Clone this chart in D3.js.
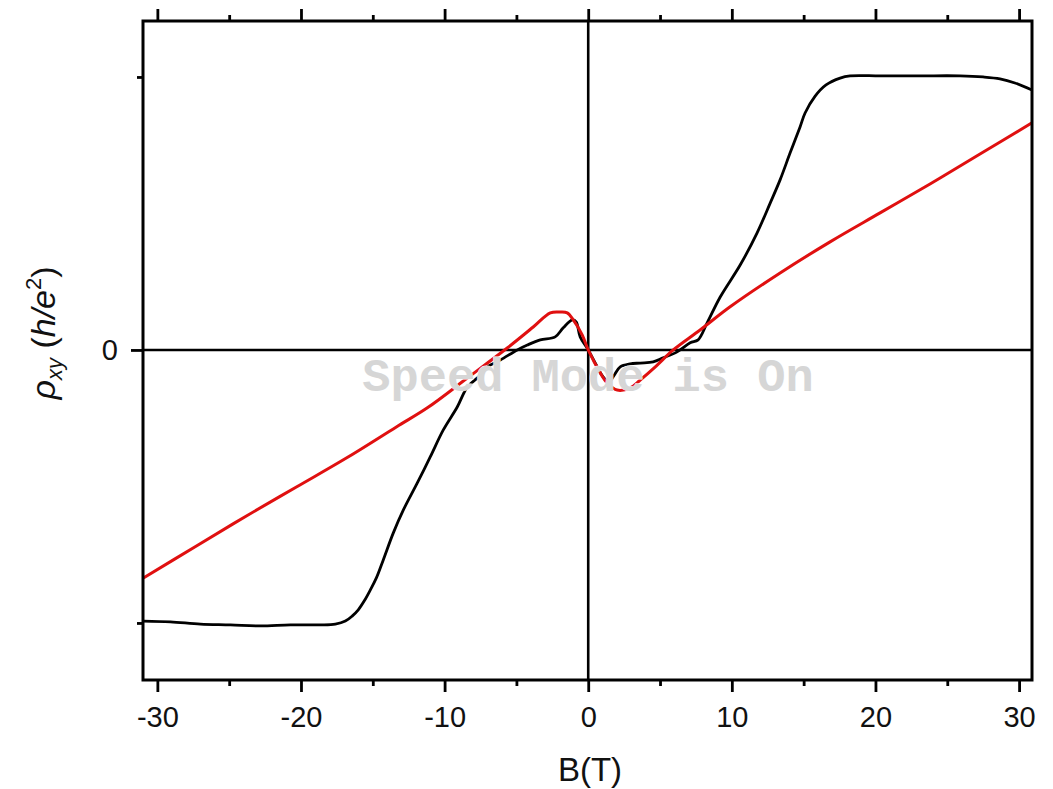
<!DOCTYPE html>
<html>
<head>
<meta charset="utf-8">
<script src="https://cdn.jsdelivr.net/npm/d3@7"></script>
<style>
  html, body { margin: 0; padding: 0; background: #fff; }
  svg { display: block; font-family: Arial, "Liberation Sans", sans-serif; }
</style>
</head>
<body>
<svg id="chart" width="1053" height="789"></svg>
<script>
// measured data, B in tesla, rho_xy in h/e^2
const blackB   = [-30.97, -29.09, -27.0, -24.91, -22.83, -20.74, -18.65, -17.61, -16.91, -16.42, -16.01, -15.59, -15.17, -14.75, -14.27, -13.57, -12.87, -11.9, -11.0, -10.09, -9.12, -8.42, -7.65, -7.03, -6.12, -4.94, -4.24, -3.34, -2.3, -1.74, -1.11, -0.84, -0.56, 0, 0.56, 1.04, 1.46, 1.81, 2.23, 2.92, 3.62, 4.52, 5.22, 6.19, 7.1, 7.65, 8.28, 9.19, 10.58, 11.76, 12.67, 13.36, 14.06, 14.75, 15.1, 15.8, 16.56, 17.54, 18.23, 20.32, 23.1, 25.89, 27.49, 28.67, 29.71, 30.9];
const blackRho = [-0.993, -0.996, -1.004, -1.007, -1.011, -1.007, -1.007, -1.004, -0.993, -0.974, -0.952, -0.919, -0.879, -0.835, -0.769, -0.67, -0.586, -0.487, -0.392, -0.293, -0.209, -0.136, -0.099, -0.062, -0.037, 0.0, 0.018, 0.037, 0.048, 0.081, 0.11, 0.103, 0.048, 0, -0.055, -0.099, -0.117, -0.092, -0.062, -0.051, -0.048, -0.044, -0.029, -0.007, 0.026, 0.037, 0.099, 0.194, 0.311, 0.429, 0.538, 0.623, 0.722, 0.817, 0.868, 0.93, 0.971, 0.996, 1.004, 1.004, 1.004, 1.004, 1.0, 0.993, 0.978, 0.952];

const redB   = [-30.97, -27.28, -23.8, -20.32, -16.84, -13.36, -11.2, -8.42, -5.64, -3.83, -2.64, -1.95, -1.46, -1.04, -0.42, 0, 0.84, 1.32, 2.02, 2.92, 3.62, 4.73, 5.92, 7.79, 9.88, 13.36, 16.84, 20.32, 23.8, 27.28, 30.9];
const redRho = [-0.835, -0.718, -0.608, -0.502, -0.396, -0.282, -0.212, -0.103, 0.007, 0.084, 0.136, 0.139, 0.136, 0.11, 0.055, 0, -0.084, -0.121, -0.147, -0.139, -0.11, -0.059, 0.0, 0.073, 0.158, 0.282, 0.396, 0.502, 0.608, 0.718, 0.832];

const xMajor = [-30, -20, -10, 0, 10, 20, 30];
const xMinor = [-25, -15, -5, 5, 15, 25];
const yMajor = [0];
const yMinor = [-1, 1];

const svg = d3.select('#chart');
const m = { l: 143, r: 1032, t: 21, b: 680 };

const x = d3.scaleLinear().domain([-31, 30.9]).range([m.l, m.r]);
const y = d3.scaleLinear().domain([-1.209, 1.205]).range([m.b, m.t]);

const fmt = d => String(d); // hyphen minus like the original

// curves, clipped to the frame
svg.append('clipPath').attr('id', 'clip')
  .append('rect').attr('x', m.l).attr('y', m.t).attr('width', m.r - m.l).attr('height', m.b - m.t);

const plot = svg.append('g').attr('clip-path', 'url(#clip)');

// zero lines
plot.append('line').attr('x1', m.l).attr('x2', m.r).attr('y1', y(0)).attr('y2', y(0))
  .attr('stroke', '#000').attr('stroke-width', 2.6);
plot.append('line').attr('x1', x(0)).attr('x2', x(0)).attr('y1', m.t).attr('y2', m.b)
  .attr('stroke', '#000').attr('stroke-width', 2.6);

const line = d3.line().x(d => x(d[0])).y(d => y(d[1])).curve(d3.curveCatmullRom.alpha(0.5));

plot.append('path').datum(d3.zip(blackB, blackRho))
  .attr('fill', 'none').attr('stroke', '#000').attr('stroke-width', 2.8)
  .attr('stroke-linejoin', 'round').attr('d', line);
plot.append('path').datum(d3.zip(redB, redRho))
  .attr('fill', 'none').attr('stroke', '#e01010').attr('stroke-width', 3)
  .attr('stroke-linejoin', 'round').attr('d', line);

// watermark, sits on top of the curves
svg.append('text')
  .attr('x', 588).attr('y', 391).attr('text-anchor', 'middle')
  .style('font-family', '"Courier New", "Liberation Mono", monospace')
  .style('font-weight', 'bold').style('font-size', '47px')
  .attr('fill', '#d6d6d6').attr('stroke', '#fff').attr('stroke-width', 0.8).attr('paint-order', 'stroke')
  .text('Speed Mode is On');

// axes
const gBottom = svg.append('g').attr('transform', `translate(0,${m.b})`);
gBottom.call(d3.axisBottom(x).tickValues(xMajor).tickSize(12).tickPadding(14).tickFormat(fmt));
gBottom.append('g').call(d3.axisBottom(x).tickValues(xMinor).tickSize(6).tickFormat(''));

const gTop = svg.append('g').attr('transform', `translate(0,${m.t})`);
gTop.call(d3.axisTop(x).tickValues(xMajor).tickSize(12).tickFormat(''));
gTop.append('g').call(d3.axisTop(x).tickValues(xMinor).tickSize(6).tickFormat(''));

const gLeft = svg.append('g').attr('transform', `translate(${m.l},0)`);
gLeft.call(d3.axisLeft(y).tickValues(yMajor).tickSize(12).tickPadding(13).tickFormat(fmt));
gLeft.append('g').call(d3.axisLeft(y).tickValues(yMinor).tickSize(6).tickFormat(''));

svg.selectAll('.domain').remove();
svg.selectAll('.tick line').attr('stroke', '#000').attr('stroke-width', 2.8);
svg.selectAll('.tick text').attr('fill', '#111').style('font-size', '29px')
  .style('font-family', 'Arial, "Liberation Sans", sans-serif');

// frame
svg.append('rect').attr('x', m.l).attr('y', m.t).attr('width', m.r - m.l).attr('height', m.b - m.t)
  .attr('fill', 'none').attr('stroke', '#000').attr('stroke-width', 3);

// titles
svg.append('text').attr('x', 590).attr('y', 781).attr('text-anchor', 'middle')
  .attr('fill', '#111').style('font-size', '33px').text('B(T)');

const yl = svg.append('text')
  .attr('transform', 'translate(55,333) rotate(-90)')
  .attr('text-anchor', 'middle').attr('fill', '#111').style('font-size', '34px');
yl.append('tspan').style('font-style', 'italic').text('ρ');
yl.append('tspan').style('font-style', 'italic').style('font-size', '22px').attr('dy', 7).text('xy');
yl.append('tspan').attr('dy', -7).text(' (');
yl.append('tspan').style('font-style', 'italic').text('h/e');
yl.append('tspan').style('font-size', '22px').attr('dy', -14).text('2');
yl.append('tspan').attr('dy', 14).text(')');
</script>
</body>
</html>
